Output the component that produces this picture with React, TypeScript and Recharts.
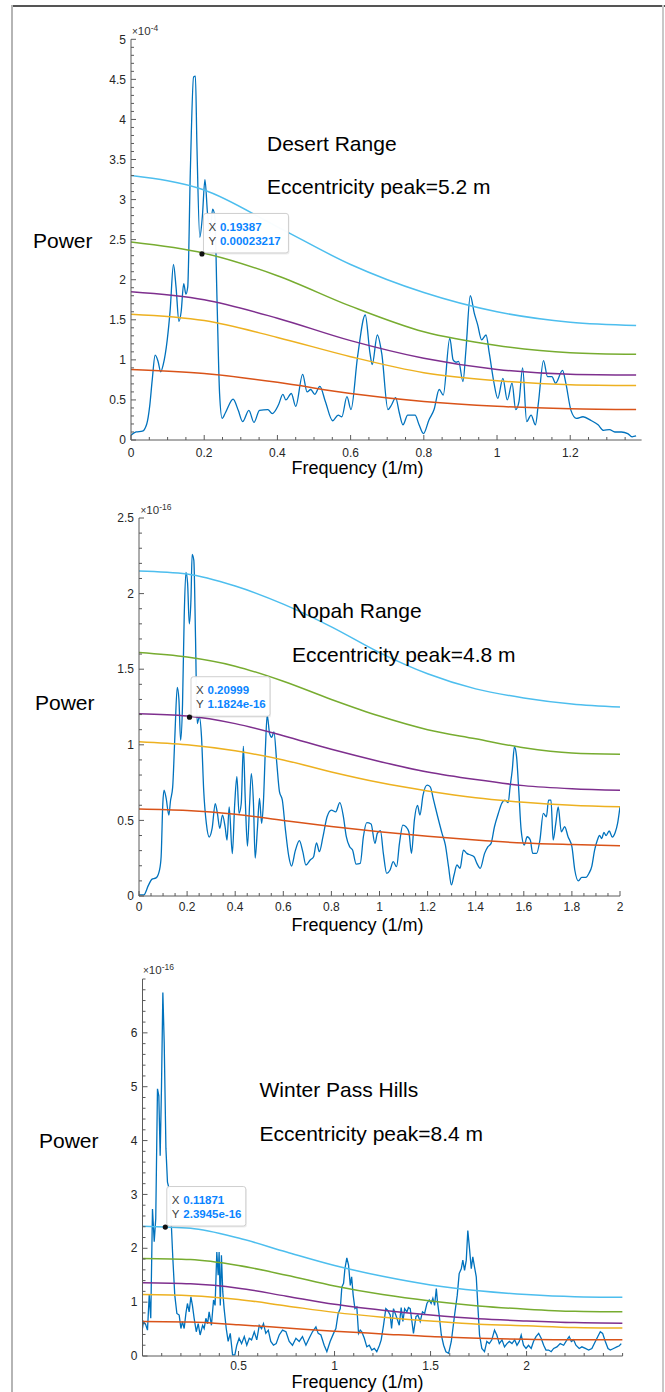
import React from 'react';
import { LineChart, Line, XAxis, YAxis, ReferenceDot } from 'recharts';

const FONT = '"Liberation Sans", Arial, Helvetica, sans-serif';
const AXIS = '#5a5a5a';
const TICK_TEXT = '#262626';
const SPEC = '#0072BD';
const C_CYAN = '#4DBEEE';
const C_GREEN = '#77AC30';
const C_PURPLE = '#7E2F8E';
const C_YELLOW = '#EDB120';
const C_RED = '#D95319';
const TIP_BLUE = '#0a84ff';

// ---------------- Desert Range (power x 1e-4) ----------------
const desertSpectrum: [number, number][] = [
  [0, 0.06], [0.014, 0.1], [0.031, 0.11], [0.043, 0.2], [0.051, 0.42], [0.058, 0.75], [0.066, 1.06],
  [0.074, 0.98], [0.081, 0.85], [0.088, 0.94], [0.099, 1.25], [0.107, 1.62], [0.116, 2.19], [0.123, 1.91],
  [0.131, 1.48], [0.137, 1.6], [0.144, 1.95], [0.15, 1.82], [0.155, 1.91], [0.162, 3.33], [0.171, 4.53],
  [0.176, 4.54], [0.18, 3.7], [0.188, 2.53], [0.195, 2.79], [0.202, 3.25], [0.209, 2.83], [0.216, 2.58],
  [0.223, 2.88], [0.229, 2.79], [0.235, 1.75], [0.242, 0.58], [0.249, 0.27], [0.258, 0.34], [0.279, 0.51],
  [0.293, 0.37], [0.305, 0.23], [0.322, 0.37], [0.336, 0.22], [0.351, 0.37], [0.374, 0.38], [0.386, 0.33],
  [0.403, 0.44], [0.415, 0.57], [0.423, 0.5], [0.438, 0.58], [0.45, 0.42], [0.469, 0.82], [0.481, 0.6],
  [0.491, 0.63], [0.502, 0.57], [0.516, 0.67], [0.531, 0.48], [0.551, 0.24], [0.566, 0.31], [0.576, 0.29],
  [0.59, 0.54], [0.601, 0.38], [0.619, 1.04], [0.64, 1.56], [0.653, 1.08], [0.659, 0.94], [0.673, 1.31],
  [0.685, 1.08], [0.702, 0.38], [0.712, 0.44], [0.723, 0.53], [0.733, 0.34], [0.743, 0.19], [0.756, 0.31],
  [0.776, 0.31], [0.787, 0.19], [0.799, 0.08], [0.814, 0.25], [0.828, 0.38], [0.842, 0.63], [0.853, 0.56],
  [0.871, 1.27], [0.88, 1.0], [0.888, 0.97], [0.895, 0.98], [0.907, 0.73], [0.915, 1.12], [0.927, 1.8],
  [0.938, 1.58], [0.947, 1.44], [0.958, 1.25], [0.97, 1.31], [0.979, 1.08], [0.991, 0.73], [1.002, 0.52],
  [1.016, 0.77], [1.028, 0.5], [1.041, 0.71], [1.051, 0.38], [1.06, 0.48], [1.07, 0.9], [1.081, 0.23],
  [1.093, 0.31], [1.105, 0.19], [1.113, 0.46], [1.127, 0.99], [1.138, 0.79], [1.15, 0.79], [1.16, 0.71],
  [1.179, 0.87], [1.188, 0.71], [1.202, 0.37], [1.217, 0.27], [1.235, 0.29], [1.258, 0.24], [1.276, 0.19],
  [1.291, 0.12], [1.307, 0.13], [1.322, 0.1], [1.34, 0.1], [1.357, 0.08], [1.369, 0.04], [1.38, 0.05],
];
const desertThrFreq = [0, 0.2, 0.4, 0.6, 0.8, 1.0, 1.2, 1.38];
const desertCyan = [3.3, 3.12, 2.66, 2.19, 1.84, 1.6, 1.47, 1.43];
const desertGreen = [2.47, 2.33, 2.05, 1.67, 1.35, 1.18, 1.09, 1.07];
const desertPurple = [1.85, 1.75, 1.52, 1.24, 1.02, 0.88, 0.82, 0.81];
const desertYellow = [1.57, 1.49, 1.28, 1.04, 0.84, 0.74, 0.69, 0.68];
const desertRed = [0.88, 0.83, 0.72, 0.58, 0.48, 0.42, 0.39, 0.38];
const desertXLabels = [0, 0.2, 0.4, 0.6, 0.8, 1, 1.2];
const desertYLabels = [0, 0.5, 1, 1.5, 2, 2.5, 3, 3.5, 4, 4.5, 5];

// ---------------- Nopah Range (power x 1e-16) ----------------
const nopahSpectrum: [number, number][] = [
  [0, 0.007], [0.02, 0.007], [0.039, 0.07], [0.053, 0.11], [0.071, 0.12], [0.085, 0.17], [0.092, 0.26],
  [0.099, 0.61], [0.104, 0.7], [0.113, 0.645], [0.124, 0.535], [0.131, 0.63], [0.14, 0.72], [0.149, 1.05],
  [0.159, 1.38], [0.166, 1.3], [0.173, 1.03], [0.181, 1.27], [0.188, 1.85], [0.195, 2.14], [0.202, 2.07],
  [0.209, 1.8], [0.216, 1.96], [0.221, 2.26], [0.228, 2.22], [0.235, 1.71], [0.242, 1.14], [0.251, 1.185],
  [0.26, 1.05], [0.269, 0.7], [0.28, 0.48], [0.292, 0.39], [0.304, 0.447], [0.317, 0.61], [0.326, 0.546],
  [0.336, 0.447], [0.347, 0.535], [0.358, 0.458], [0.366, 0.37], [0.375, 0.59], [0.388, 0.28], [0.398, 0.61],
  [0.407, 0.79], [0.416, 0.546], [0.425, 0.61], [0.434, 0.99], [0.442, 0.63], [0.451, 0.33], [0.46, 0.61],
  [0.467, 0.81], [0.476, 0.61], [0.483, 0.25], [0.492, 0.436], [0.501, 0.645], [0.51, 0.48], [0.517, 0.61],
  [0.526, 0.99], [0.533, 1.196], [0.543, 1.075], [0.552, 1.05], [0.561, 1.086], [0.573, 0.877], [0.584, 0.69],
  [0.596, 0.634], [0.609, 0.436], [0.623, 0.26], [0.634, 0.198], [0.65, 0.3], [0.667, 0.366], [0.681, 0.293],
  [0.694, 0.205], [0.712, 0.238], [0.726, 0.26], [0.738, 0.352], [0.75, 0.293], [0.765, 0.392], [0.782, 0.524],
  [0.8, 0.568], [0.818, 0.557], [0.835, 0.617], [0.85, 0.524], [0.862, 0.392], [0.876, 0.326], [0.888, 0.304],
  [0.903, 0.211], [0.92, 0.216], [0.933, 0.392], [0.947, 0.485], [0.965, 0.476], [0.981, 0.348], [0.991, 0.414],
  [1.004, 0.432], [1.016, 0.282], [1.03, 0.15], [1.044, 0.172], [1.057, 0.227], [1.071, 0.194], [1.083, 0.348],
  [1.097, 0.469], [1.11, 0.458], [1.122, 0.425], [1.133, 0.282], [1.145, 0.502], [1.158, 0.6], [1.168, 0.535],
  [1.181, 0.667], [1.198, 0.733], [1.211, 0.722], [1.225, 0.634], [1.242, 0.524], [1.26, 0.414], [1.274, 0.337],
  [1.287, 0.194], [1.299, 0.073], [1.31, 0.139], [1.322, 0.205], [1.335, 0.183], [1.349, 0.304], [1.363, 0.282],
  [1.379, 0.271], [1.393, 0.26], [1.405, 0.216], [1.419, 0.183], [1.437, 0.282], [1.451, 0.326], [1.464, 0.348],
  [1.478, 0.458], [1.494, 0.546], [1.508, 0.612], [1.522, 0.634], [1.535, 0.617], [1.543, 0.722], [1.552, 0.833],
  [1.561, 0.987], [1.57, 0.92], [1.579, 0.7], [1.589, 0.436], [1.602, 0.337], [1.614, 0.392], [1.627, 0.37],
  [1.637, 0.282], [1.653, 0.282], [1.667, 0.37], [1.681, 0.546], [1.694, 0.524], [1.703, 0.634], [1.713, 0.634],
  [1.722, 0.37], [1.733, 0.48], [1.743, 0.59], [1.756, 0.425], [1.77, 0.458], [1.784, 0.392], [1.8, 0.326],
  [1.812, 0.172], [1.827, 0.1], [1.841, 0.123], [1.858, 0.123], [1.871, 0.15], [1.883, 0.198], [1.894, 0.3],
  [1.906, 0.37], [1.915, 0.4], [1.924, 0.38], [1.933, 0.42], [1.942, 0.4], [1.955, 0.43], [1.968, 0.39],
  [1.98, 0.42], [1.99, 0.48], [2.0, 0.59],
];
const nopahThrFreq = [0, 0.2, 0.4, 0.6, 0.8, 1.0, 1.2, 1.4, 1.6, 1.8, 2.0];
const nopahCyan = [2.15, 2.13, 2.05, 1.93, 1.78, 1.61, 1.47, 1.37, 1.31, 1.27, 1.25];
const nopahGreen = [1.61, 1.58, 1.52, 1.42, 1.3, 1.19, 1.1, 1.04, 0.98, 0.945, 0.937];
const nopahPurple = [1.205, 1.19, 1.14, 1.06, 0.97, 0.89, 0.82, 0.77, 0.73, 0.71, 0.7];
const nopahYellow = [1.02, 1.0, 0.96, 0.9, 0.82, 0.75, 0.695, 0.65, 0.62, 0.6, 0.59];
const nopahRed = [0.575, 0.565, 0.54, 0.5, 0.46, 0.425, 0.395, 0.37, 0.35, 0.34, 0.333];
const nopahXLabels = [0, 0.2, 0.4, 0.6, 0.8, 1, 1.2, 1.4, 1.6, 1.8, 2];
const nopahYLabels = [0, 0.5, 1, 1.5, 2, 2.5];

// ---------------- Winter Pass Hills (power x 1e-16) ----------------
const winterSpectrum: [number, number][] = [
  [0, 0.51], [0.005, 0.64], [0.016, 0.59], [0.026, 0.48], [0.035, 1.13], [0.043, 0.7], [0.052, 2.73],
  [0.061, 2.12], [0.069, 2.55], [0.078, 4.96], [0.085, 4.83], [0.092, 3.72], [0.099, 5.02], [0.106, 6.75],
  [0.113, 5.82], [0.122, 3.85], [0.13, 3.23], [0.139, 3.1], [0.148, 2.61], [0.158, 1.81], [0.168, 1.13],
  [0.179, 0.79], [0.191, 0.76], [0.2, 0.51], [0.208, 0.64], [0.217, 0.51], [0.226, 0.79], [0.234, 0.975],
  [0.243, 0.82], [0.252, 1.1], [0.26, 0.94], [0.269, 0.7], [0.28, 0.45], [0.29, 0.6], [0.3, 0.39],
  [0.313, 0.57], [0.321, 0.51], [0.33, 0.7], [0.339, 0.6], [0.347, 0.82], [0.359, 0.57], [0.37, 1.04],
  [0.378, 0.94], [0.387, 1.93], [0.394, 1.5], [0.399, 1.93], [0.405, 0.94], [0.411, 1.87], [0.418, 1.19],
  [0.425, 0.88], [0.436, 0.51], [0.446, 0.27], [0.457, 0.42], [0.469, 0.02], [0.481, 0.02], [0.491, 0.2],
  [0.503, 0.33], [0.516, 0.23], [0.53, 0.36], [0.543, 0.2], [0.556, 0.33], [0.568, 0.3], [0.582, 0.45],
  [0.595, 0.3], [0.608, 0.57], [0.62, 0.51], [0.63, 0.6], [0.642, 0.42], [0.655, 0.48], [0.668, 0.27],
  [0.682, 0.2], [0.696, 0.23], [0.712, 0.39], [0.729, 0.48], [0.747, 0.45], [0.764, 0.27], [0.781, 0.2],
  [0.799, 0.33], [0.816, 0.27], [0.833, 0.36], [0.851, 0.2], [0.868, 0.33], [0.885, 0.45], [0.903, 0.54],
  [0.915, 0.42], [0.929, 0.39], [0.946, 0.2], [0.96, 0.08], [0.977, 0.27], [0.995, 0.42], [1.007, 0.51],
  [1.019, 0.79], [1.03, 0.88], [1.038, 1.28], [1.047, 1.35], [1.054, 1.62], [1.064, 1.82], [1.073, 1.69],
  [1.082, 1.31], [1.089, 1.47], [1.097, 1.13], [1.106, 0.88], [1.116, 0.91], [1.125, 0.42], [1.134, 0.48],
  [1.142, 0.45], [1.155, 0.33], [1.168, 0.17], [1.181, 0.2], [1.194, 0.11], [1.207, 0.14], [1.22, 0.08],
  [1.234, 0.2], [1.243, 0.3], [1.255, 0.57], [1.267, 0.88], [1.276, 0.85], [1.29, 0.76], [1.297, 0.51],
  [1.307, 0.88], [1.325, 0.7], [1.337, 0.57], [1.347, 0.9], [1.356, 0.64], [1.365, 0.88], [1.377, 0.82],
  [1.385, 0.9], [1.394, 0.88], [1.403, 0.64], [1.411, 0.42], [1.424, 0.73], [1.434, 0.76], [1.446, 0.64],
  [1.458, 0.82], [1.469, 0.79], [1.481, 0.975], [1.493, 1.04], [1.503, 0.975], [1.512, 1.07], [1.521, 0.94],
  [1.53, 1.25], [1.536, 1.01], [1.545, 0.76], [1.556, 0.39], [1.568, 0.2], [1.58, 0.08], [1.594, 0.05],
  [1.608, 0.27], [1.625, 0.76], [1.639, 1.13], [1.649, 1.53], [1.66, 1.62], [1.668, 1.78], [1.677, 1.59],
  [1.686, 1.78], [1.694, 2.33], [1.703, 1.99], [1.712, 1.62], [1.72, 1.84], [1.729, 1.65], [1.738, 1.47],
  [1.747, 0.88], [1.755, 0.39], [1.767, 0.14], [1.781, 0.08], [1.793, 0.27], [1.806, 0.23], [1.819, 0.3],
  [1.833, 0.48], [1.845, 0.39], [1.858, 0.23], [1.872, 0.3], [1.885, 0.17], [1.898, 0.23], [1.91, 0.27],
  [1.924, 0.23], [1.938, 0.3], [1.95, 0.2], [1.962, 0.27], [1.972, 0.39], [1.984, 0.2], [1.997, 0.14],
  [2.01, 0.2], [2.024, 0.14], [2.036, 0.27], [2.049, 0.36], [2.063, 0.42], [2.076, 0.33], [2.089, 0.2],
  [2.101, 0.11], [2.115, 0.11], [2.128, 0.08], [2.141, 0.14], [2.158, 0.17], [2.175, 0.23], [2.193, 0.2],
  [2.21, 0.3], [2.222, 0.36], [2.233, 0.27], [2.245, 0.3], [2.257, 0.2], [2.274, 0.14], [2.288, 0.17],
  [2.306, 0.14], [2.323, 0.11], [2.34, 0.14], [2.358, 0.27], [2.375, 0.39], [2.384, 0.45], [2.396, 0.42],
  [2.41, 0.27], [2.424, 0.14], [2.436, 0.11], [2.453, 0.14], [2.47, 0.17], [2.483, 0.19], [2.493, 0.23],
];
const winterThrFreq = [0, 0.25, 0.5, 0.75, 1.0, 1.25, 1.5, 1.75, 2.0, 2.25, 2.5];
const winterCyan = [2.41, 2.37, 2.19, 1.93, 1.68, 1.48, 1.32, 1.21, 1.14, 1.1, 1.09];
const winterGreen = [1.81, 1.79, 1.68, 1.5, 1.3, 1.14, 1.02, 0.93, 0.87, 0.83, 0.82];
const winterPurple = [1.36, 1.34, 1.26, 1.11, 0.96, 0.85, 0.76, 0.69, 0.65, 0.62, 0.61];
const winterYellow = [1.14, 1.12, 1.05, 0.93, 0.81, 0.72, 0.65, 0.59, 0.56, 0.53, 0.52];
const winterRed = [0.64, 0.63, 0.58, 0.52, 0.46, 0.41, 0.36, 0.33, 0.31, 0.3, 0.3];
const winterXLabels = [0.5, 1, 1.5, 2];
const winterYLabels = [0, 1, 2, 3, 4, 5, 6];

// ---------------- helpers ----------------
const pairRows = (pairs: [number, number][]) => pairs.map(([f, p]) => ({ f, p }));
const zipRows = (xs: number[], ys: number[]) => xs.map((f, i) => ({ f, p: ys[i] }));
const stepTicks = (max: number, step: number) => {
  const out: number[] = [];
  const n = Math.floor(max / step + 1e-6);
  for (let i = 0; i <= n; i++) out.push(Math.round(i * step * 1e6) / 1e6);
  return out;
};
const isIn = (v: number, arr: number[]) => arr.some((a) => Math.abs(a - v) < 1e-6);

const XTick = (props: any) => {
  const { x, y, payload, labels, labelDy } = props;
  const v = payload.value;
  const major = isIn(v, labels);
  return (
    <g>
      <line x1={x} x2={x} y1={y} y2={y - (major ? 5 : 3)} stroke={AXIS} strokeWidth={1} />
      {major && (
        <text x={x} y={y + labelDy} textAnchor="middle" fontSize={12} fill={TICK_TEXT} fontFamily={FONT}>
          {String(v)}
        </text>
      )}
    </g>
  );
};

const YTick = (props: any) => {
  const { x, y, payload, labels } = props;
  const v = payload.value;
  const major = isIn(v, labels);
  return (
    <g>
      <line x1={x} x2={x + (major ? 5 : 3)} y1={y} y2={y} stroke={AXIS} strokeWidth={1} />
      {major && (
        <text x={x - 5} y={y} dy="0.35em" textAnchor="end" fontSize={12} fill={TICK_TEXT} fontFamily={FONT}>
          {String(v)}
        </text>
      )}
    </g>
  );
};

const DataTip = ({ cx, cy, xs, ys, w }: any) => {
  const h = 39.5;
  const left = cx + 1.5;
  const top = cy - 1 - h;
  return (
    <g>
      <rect x={left + 1} y={top + 1.5} width={w} height={h} rx={2.5} fill="#000" fillOpacity={0.07} />
      <rect x={left} y={top} width={w} height={h} rx={2.5} fill="#ffffff" fillOpacity={0.97} stroke="#cfcfcf" strokeWidth={1} />
      <text x={left + 5} y={top + 17.5} fontSize={11.5} fill="#404040" fontFamily={FONT}>X</text>
      <text x={left + 16.5} y={top + 17.5} fontSize={11.5} fill={TIP_BLUE} fontWeight="bold" fontFamily={FONT}>{xs}</text>
      <text x={left + 5} y={top + 31.5} fontSize={11.5} fill="#404040" fontFamily={FONT}>Y</text>
      <text x={left + 16.5} y={top + 31.5} fontSize={11.5} fill={TIP_BLUE} fontWeight="bold" fontFamily={FONT}>{ys}</text>
      <circle cx={cx} cy={cy} r={2.6} fill="#111" />
    </g>
  );
};

type PanelProps = {
  top: number;
  height: number;
  margin: { top: number; right: number; bottom: number; left: number };
  xMax: number;
  xStep: number;
  xLabels: number[];
  labelDy: number;
  yMax: number;
  yStep: number;
  yLabels: number[];
  spectrum: { f: number; p: number }[];
  thrFreq: number[];
  thr: { color: string; values: number[] }[];
  tip: { x: number; y: number; xs: string; ys: string; w: number };
  specType: 'monotone' | 'linear';
};

const Panel = (p: PanelProps) => {
  const xTicks = stepTicks(p.xMax, p.xStep);
  const yTicks = stepTicks(p.yMax, p.yStep);
  return (
    <div style={{ position: 'absolute', left: 0, top: p.top, width: 665, height: p.height }}>
      <LineChart width={665} height={p.height} margin={p.margin}>
        <XAxis
          type="number"
          dataKey="f"
          domain={[0, p.xMax]}
          ticks={xTicks}
          interval={0}
          tickSize={0}
          tickMargin={0}
          height={30}
          allowDataOverflow
          axisLine={{ stroke: AXIS, strokeWidth: 1 }}
          tickLine={false}
          tick={(tp: any) => <XTick {...tp} labels={p.xLabels} labelDy={p.labelDy} />}
        />
        <YAxis
          type="number"
          dataKey="p"
          domain={[0, p.yMax]}
          ticks={yTicks}
          interval={0}
          tickSize={0}
          tickMargin={0}
          width={40}
          allowDataOverflow
          axisLine={{ stroke: AXIS, strokeWidth: 1 }}
          tickLine={false}
          tick={(tp: any) => <YTick {...tp} labels={p.yLabels} />}
        />
        <Line
          data={p.spectrum}
          dataKey="p"
          type={p.specType}
          stroke={SPEC}
          strokeWidth={1.3}
          dot={false}
          activeDot={false}
          isAnimationActive={false}
        />
        {p.thr.map((t, i) => (
          <Line
            key={i}
            data={zipRows(p.thrFreq, t.values)}
            dataKey="p"
            type="monotone"
            stroke={t.color}
            strokeWidth={1.5}
            dot={false}
            activeDot={false}
            isAnimationActive={false}
          />
        ))}
        <ReferenceDot
          x={p.tip.x}
          y={p.tip.y}
          r={2.6}
          ifOverflow="visible"
          shape={(sp: any) => <DataTip cx={sp.cx} cy={sp.cy} xs={p.tip.xs} ys={p.tip.ys} w={p.tip.w} />}
        />
      </LineChart>
    </div>
  );
};

const Txt = ({ left, capTop, size, children }: any) => (
  <div
    style={{
      position: 'absolute',
      left,
      top: capTop - 0.13 * size,
      fontSize: size,
      lineHeight: 1,
      fontFamily: FONT,
      color: '#000',
      whiteSpace: 'nowrap',
    }}
  >
    {children}
  </div>
);

const Exp = ({ left, top, power }: any) => (
  <div
    style={{
      position: 'absolute',
      left,
      top,
      fontSize: 11.5,
      lineHeight: 1,
      fontFamily: FONT,
      color: '#333',
      whiteSpace: 'nowrap',
    }}
  >
    <span style={{ fontSize: 10 }}>×</span>10
    <span style={{ fontSize: 8.5, position: 'relative', top: -4.5 }}>{power}</span>
  </div>
);

const thresholds = (c: number[], g: number[], pu: number[], y: number[], r: number[]) => [
  { color: C_CYAN, values: c },
  { color: C_GREEN, values: g },
  { color: C_PURPLE, values: pu },
  { color: C_YELLOW, values: y },
  { color: C_RED, values: r },
];

export default function App() {
  return (
    <div style={{ position: 'absolute', left: 0, top: 0, width: 665, height: 1392, background: '#fff', overflow: 'hidden' }}>
      {/* outer frame */}
      <div style={{ position: 'absolute', left: 11, top: 5, width: 654, height: 2, background: '#555' }} />
      <div style={{ position: 'absolute', left: 11, top: 5, width: 2, height: 1387, background: '#b5b5b5' }} />
      <div style={{ position: 'absolute', left: 662, top: 5, width: 2, height: 1387, background: '#c8c8c8' }} />

      <Panel
        top={0}
        height={480}
        margin={{ top: 39.3, right: 23.4, bottom: 10, left: 91 }}
        xMax={1.395}
        xStep={0.05}
        xLabels={desertXLabels}
        labelDy={16.5}
        yMax={5}
        yStep={0.1}
        yLabels={desertYLabels}
        spectrum={pairRows(desertSpectrum)}
        thrFreq={desertThrFreq}
        thr={thresholds(desertCyan, desertGreen, desertPurple, desertYellow, desertRed)}
        tip={{ x: 0.19387, y: 2.3217, xs: '0.19387', ys: '0.00023217', w: 85 }}
        specType="monotone"
      />
      <Panel
        top={480}
        height={470}
        margin={{ top: 38, right: 45, bottom: 24, left: 99 }}
        xMax={2}
        xStep={0.05}
        xLabels={nopahXLabels}
        labelDy={15}
        yMax={2.5}
        yStep={0.1}
        yLabels={nopahYLabels}
        spectrum={pairRows(nopahSpectrum)}
        thrFreq={nopahThrFreq}
        thr={thresholds(nopahCyan, nopahGreen, nopahPurple, nopahYellow, nopahRed)}
        tip={{ x: 0.20999, y: 1.1824, xs: '0.20999', ys: '1.1824e-16', w: 79 }}
        specType="monotone"
      />
      <Panel
        top={950}
        height={442}
        margin={{ top: 29, right: 42.4, bottom: 6, left: 102.5 }}
        xMax={2.5}
        xStep={0.1}
        xLabels={winterXLabels}
        labelDy={13.5}
        yMax={7}
        yStep={0.2}
        yLabels={winterYLabels}
        spectrum={pairRows(winterSpectrum)}
        thrFreq={winterThrFreq}
        thr={thresholds(winterCyan, winterGreen, winterPurple, winterYellow, winterRed)}
        tip={{ x: 0.11871, y: 2.3945, xs: '0.11871', ys: '2.3945e-16', w: 79 }}
        specType="linear"
      />

      {/* exponent labels */}
      <Exp left={132} top={26} power="-4" />
      <Exp left={140.5} top={505} power="-16" />
      <Exp left={143} top={965} power="-16" />

      {/* panel 1 text */}
      <Txt left={33} capTop={233} size={21}>Power</Txt>
      <Txt left={267} capTop={136} size={21}>Desert Range</Txt>
      <Txt left={267} capTop={179} size={21}>Eccentricity peak=5.2 m</Txt>
      <Txt left={291.5} capTop={461} size={18}>Frequency (1/m)</Txt>

      {/* panel 2 text */}
      <Txt left={35} capTop={695} size={21}>Power</Txt>
      <Txt left={292} capTop={603} size={21}>Nopah Range</Txt>
      <Txt left={292} capTop={647} size={21}>Eccentricity peak=4.8 m</Txt>
      <Txt left={291.5} capTop={918} size={18}>Frequency (1/m)</Txt>

      {/* panel 3 text */}
      <Txt left={39} capTop={1133} size={21}>Power</Txt>
      <Txt left={259.5} capTop={1082} size={21}>Winter Pass Hills</Txt>
      <Txt left={259.5} capTop={1126} size={21}>Eccentricity peak=8.4 m</Txt>
      <Txt left={291.5} capTop={1375.5} size={18}>Frequency (1/m)</Txt>
    </div>
  );
}
